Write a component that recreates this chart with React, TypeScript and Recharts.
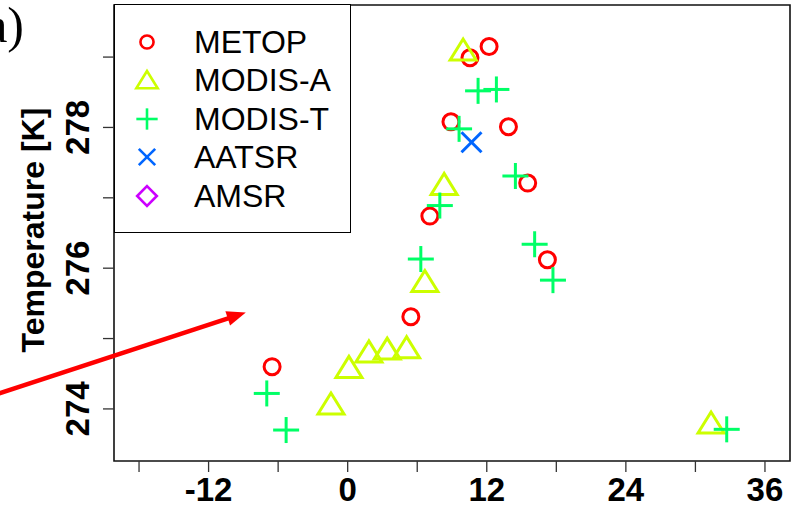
import React from 'react';
import { ScatterChart, Scatter, XAxis, YAxis, ReferenceArea, ReferenceLine, Legend, Label } from 'recharts';

// ---- data (x, temperature) ----
const metop: number[][] = [[-6.52, 274.6], [5.45, 275.31], [7.09, 276.74], [8.91, 278.08], [10.55, 278.99], [12.2, 279.15], [13.87, 278.01], [15.53, 277.21], [17.23, 276.12]];
const modisA: number[][] = [[-1.44, 274.07], [0.11, 274.59], [1.83, 274.81], [3.41, 274.85], [5.08, 274.87], [6.66, 275.81], [8.32, 277.19], [9.96, 279.1], [31.35, 273.8]];
const modisT: number[][] = [[-6.98, 274.22], [-5.31, 273.7], [6.31, 276.13], [7.95, 276.89], [9.61, 277.98], [11.25, 278.52], [12.83, 278.54], [14.47, 277.31], [16.13, 276.34], [17.71, 275.83], [32.7, 273.71]];
const aatsr: number[][] = [[10.68, 277.79]];
const amsr: number[][] = [];

const seriesNames = ['METOP', 'MODIS-A', 'MODIS-T', 'AATSR', 'AMSR'];
const seriesColors = ['#FF0000', '#CCFF00', '#00FF66', '#0066FF', '#CC00FF'];
const seriesShapes = ['circle', 'triangle', 'plus', 'cross', 'diamond'];
const seriesData = [metop, modisA, modisT, aatsr, amsr];

const xTicks = [-18, -12, -6, 0, 6, 12, 18, 24, 30, 36];
const xLabelled = [-12, 0, 12, 24, 36];
const yTicks = [274, 275, 276, 277, 278, 279];
const yLabelled = [274, 276, 278];
const xDomain = [-20.16, 38.16];
const yDomain = [273.26, 279.74];
const arrowSeg = [{ x: -31, y: 274.17 }, { x: -8.79, y: 275.37 }];

const FONT = '"Liberation Sans", Arial, Helvetica, sans-serif';

function Marker({ kind, cx, cy, color, s = 1, sw = 3 }: any) {
  if (kind === 'circle') return <circle cx={cx} cy={cy} r={8 * s} fill="none" stroke={color} strokeWidth={sw} />;
  if (kind === 'triangle')
    return <polygon points={`${cx},${cy - 11 * s} ${cx - 13 * s},${cy + 10 * s} ${cx + 13 * s},${cy + 10 * s}`} fill="none" stroke={color} strokeWidth={sw} />;
  if (kind === 'plus')
    return (
      <g stroke={color} strokeWidth={sw}>
        <line x1={cx - 13 * s} y1={cy} x2={cx + 13 * s} y2={cy} />
        <line x1={cx} y1={cy - 13 * s} x2={cx} y2={cy + 13 * s} />
      </g>
    );
  if (kind === 'cross')
    return (
      <g stroke={color} strokeWidth={sw}>
        <line x1={cx - 10 * s} y1={cy - 10 * s} x2={cx + 10 * s} y2={cy + 10 * s} />
        <line x1={cx - 10 * s} y1={cy + 10 * s} x2={cx + 10 * s} y2={cy - 10 * s} />
      </g>
    );
  return <polygon points={`${cx},${cy - 12 * s} ${cx + 12 * s},${cy} ${cx},${cy + 12 * s} ${cx - 12 * s},${cy}`} fill="none" stroke={color} strokeWidth={sw} />;
}

const XTick = (p: any) => {
  const v = p.payload.value;
  if (!xLabelled.includes(v)) return <g />;
  return (
    <text x={p.x} y={p.y + 27} textAnchor="middle" fontFamily={FONT} fontWeight="bold" fontSize={33} fill="#000">
      {String(v)}
    </text>
  );
};

const YTick = (p: any) => {
  const v = p.payload.value;
  if (!yLabelled.includes(v)) return <g />;
  const bx = p.x - 12;
  return (
    <text x={bx} y={p.y} transform={`rotate(-90, ${bx}, ${p.y})`} textAnchor="middle" fontFamily={FONT} fontWeight="bold" fontSize={33} fill="#000">
      {String(v)}
    </text>
  );
};

const YLabel = (p: any) => {
  const vb = p.viewBox || { x: 0, y: 5, width: 114, height: 456 };
  const cy = vb.y + vb.height / 2 - 3;
  const bx = 44;
  return (
    <g>
      <text x={bx} y={cy} transform={`rotate(-90, ${bx}, ${cy})`} textAnchor="middle" fontFamily={FONT} fontWeight="bold" fontSize={32} fill="#000">
        Temperature [K]
      </text>
      <text x={24} y={42} textAnchor="end" fontFamily='"Liberation Serif", "Times New Roman", serif' fontSize={50} fill="#000">
        a)
      </text>
    </g>
  );
};

const ArrowShape = (p: any) => {
  const { x1, y1, x2, y2 } = p;
  if ([x1, y1, x2, y2].some((v) => typeof v !== 'number' || isNaN(v))) return <g />;
  const ang = Math.atan2(y2 - y1, x2 - x1);
  const L = 19;
  const W = 7.5;
  const bx = x2 - L * Math.cos(ang);
  const by = y2 - L * Math.sin(ang);
  const nx = -Math.sin(ang);
  const ny = Math.cos(ang);
  return (
    <g>
      <line x1={x1} y1={y1} x2={bx + 2 * Math.cos(ang)} y2={by + 2 * Math.sin(ang)} stroke="#FF0000" strokeWidth={4.5} />
      <polygon points={`${x2},${y2} ${bx + W * nx},${by + W * ny} ${bx - W * nx},${by - W * ny}`} fill="#FF0000" />
    </g>
  );
};

const LegendBox = () => (
  <div
    style={{
      position: 'relative',
      width: 237,
      height: 229,
      border: '1.4px solid #000',
      boxSizing: 'border-box',
      background: '#fff',
      fontFamily: FONT,
      fontSize: 32,
      color: '#000',
    }}
  >
    {seriesNames.map((n, i) => {
      const c = 37 + i * 38.4;
      return (
        <div key={n} style={{ position: 'absolute', left: 0, top: c - 19, height: 38, width: 235, lineHeight: '38px' }}>
          <svg width={40} height={38} style={{ position: 'absolute', left: 12, top: 0 }}>
            <Marker kind={seriesShapes[i]} cx={20} cy={19} color={seriesColors[i]} s={0.82} sw={2.6} />
          </svg>
          <span style={{ position: 'absolute', left: 79, top: 0, whiteSpace: 'nowrap' }}>{n}</span>
        </div>
      );
    })}
  </div>
);

export default function App() {
  return (
    <div style={{ position: 'absolute', left: 0, top: 0, width: 794, height: 507, background: '#fff' }}>
      <ScatterChart width={794} height={507} margin={{ top: 5, right: 4, bottom: 0, left: 0 }}>
        <XAxis
          type="number"
          dataKey="x"
          domain={xDomain}
          ticks={xTicks}
          allowDataOverflow
          axisLine={false}
          tickSize={11}
          tickLine={{ stroke: '#333', strokeWidth: 1.3 }}
          tick={<XTick />}
          height={46}
          interval={0}
        />
        <YAxis
          type="number"
          dataKey="y"
          domain={yDomain}
          ticks={yTicks}
          allowDataOverflow
          axisLine={false}
          tickSize={11}
          tickLine={{ stroke: '#333', strokeWidth: 1.3 }}
          tick={<YTick />}
          width={114}
          interval={0}
        >
          <Label content={<YLabel />} />
        </YAxis>
        <ReferenceArea x1={xDomain[0]} x2={xDomain[1]} y1={yDomain[0]} y2={yDomain[1]} fill="none" fillOpacity={0} stroke="#111" strokeWidth={1.6} ifOverflow="visible" />
        <ReferenceLine segment={arrowSeg} ifOverflow="visible" shape={<ArrowShape />} />
        {seriesData.map((d, i) => (
          <Scatter
            key={seriesNames[i]}
            name={seriesNames[i]}
            data={d.map(([x, y]) => ({ x, y }))}
            isAnimationActive={false}
            shape={(p: any) => <Marker kind={seriesShapes[i]} cx={p.cx} cy={p.cy} color={seriesColors[i]} />}
          />
        ))}
        <Legend
          layout="vertical"
          align="center"
          verticalAlign="middle"
          wrapperStyle={{ left: 114, top: 4, width: 237, height: 229 }}
          content={() => <LegendBox />}
        />
      </ScatterChart>
    </div>
  );
}
